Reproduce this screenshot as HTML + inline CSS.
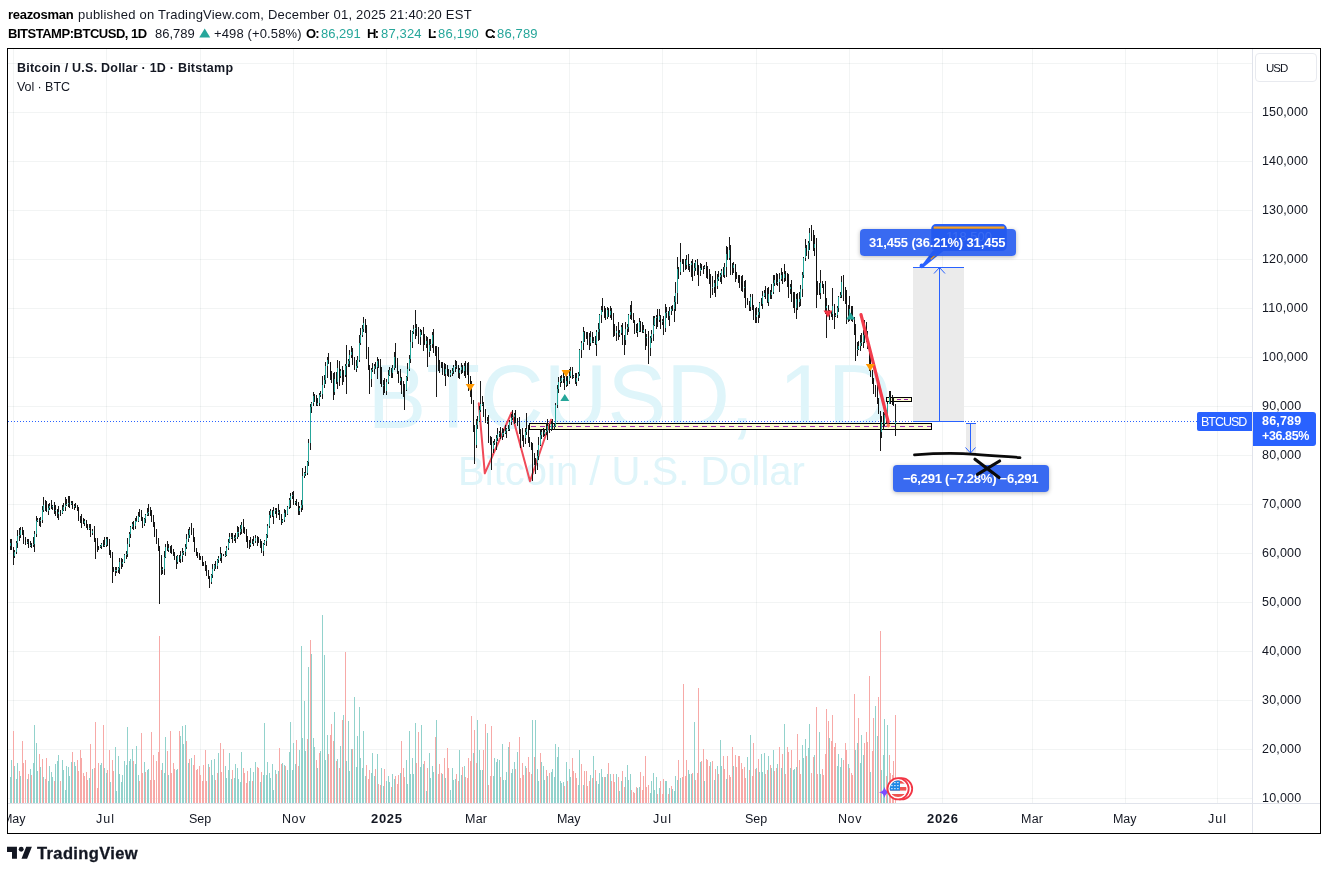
<!DOCTYPE html>
<html><head><meta charset="utf-8"><title>BTCUSD chart</title>
<style>
html,body{margin:0;padding:0;background:#fff;}
body{width:1328px;height:874px;position:relative;overflow:hidden;font-family:"Liberation Sans",sans-serif;}
.t{position:absolute;white-space:pre;font-family:"Liberation Sans",sans-serif;will-change:transform;}
.ov{position:absolute;left:0;top:0;z-index:2;}
.frame{position:absolute;left:7px;top:48px;width:1312px;height:784px;border:1px solid #000;z-index:1;box-sizing:content-box;}
.lbl{position:absolute;background:rgba(36,90,240,0.9);border-radius:4px;box-shadow:0 1px 4px rgba(0,0,0,.28);z-index:4;}
.box{position:absolute;z-index:4;}
.z5{z-index:5;}
</style></head><body>

<div class="frame"></div>
<svg class="ov" width="1328" height="874" viewBox="0 0 1328 874">
<path d="M13.5 49V803M106.5 49V803M200.5 49V803M293.5 49V803M386.5 49V803M476.5 49V803M569.5 49V803M662.5 49V803M756.5 49V803M849.5 49V803M942.5 49V803M1032.5 49V803M1125.5 49V803M1217.5 49V803" stroke="rgba(40,60,60,0.06)" stroke-width="1" fill="none" shape-rendering="crispEdges"/>
<path d="M8 63.5H1252M8 112.5H1252M8 161.5H1252M8 210.5H1252M8 259.5H1252M8 308.5H1252M8 357.5H1252M8 406.5H1252M8 455.5H1252M8 504.5H1252M8 553.5H1252M8 602.5H1252M8 651.5H1252M8 700.5H1252M8 749.5H1252M8 798.5H1252" stroke="rgba(40,60,60,0.06)" stroke-width="1" fill="none" shape-rendering="crispEdges"/>
<path d="M8 803.5H1320M1252.5 49V833" stroke="#e0e3eb" stroke-width="1" fill="none" shape-rendering="crispEdges"/>
<text x="367.5" y="428" textLength="524" lengthAdjust="spacingAndGlyphs" font-family="Liberation Sans, sans-serif" font-size="91" fill="#dff5fa">BTCUSD, 1D</text>
<text x="458.1" y="484.6" textLength="346.8" lengthAdjust="spacingAndGlyphs" font-family="Liberation Sans, sans-serif" font-size="41.2" fill="#dff5fa">Bitcoin / U.S. Dollar</text>
<path d="M10 777v26M11 760v43M14 766v37M16 779v24M17 763v40M20 776v27M27 779v24M30 769v34M33 763v40M34 725v78M36 743v60M37 771v32M40 767v36M43 777v26M48 781v22M49 766v37M51 772v31M52 777v26M55 764v39M57 761v42M58 755v48M62 760v43M63 770v33M65 790v13M66 766v37M68 767v36M69 776v27M71 762v41M74 762v41M75 766v37M89 778v25M92 769v34M100 765v38M101 763v40M104 768v35M106 773v30M110 782v21M115 747v56M116 791v12M118 756v47M119 774v29M121 782v21M122 775v28M124 761v42M126 765v38M127 727v76M129 761v42M130 759v44M132 749v54M135 764v39M136 746v57M138 775v28M144 762v41M147 770v33M148 769v34M162 763v40M164 773v30M165 737v66M168 775v28M176 770v33M177 769v34M180 736v67M182 726v77M183 744v59M185 725v78M188 763v40M191 758v45M208 764v39M211 760v43M212 775v28M214 759v44M218 753v50M225 766v37M226 778v25M228 770v33M229 753v50M231 779v24M234 778v25M235 764v39M237 768v35M238 779v24M240 782v21M241 752v51M249 781v22M250 768v35M253 772v31M255 762v41M260 782v21M263 775v28M264 723v80M266 775v28M267 762v41M269 773v30M270 778v25M272 764v39M273 790v13M275 770v33M278 771v32M282 763v40M284 765v38M287 770v33M289 752v51M290 722v81M292 770v33M293 743v60M295 764v39M299 750v53M301 646v157M302 738v65M304 701v102M305 751v52M308 667v136M311 654v149M313 738v65M314 747v56M317 768v35M320 751v52M322 615v188M324 655v148M325 760v43M327 735v68M334 712v91M337 759v44M340 746v57M343 715v88M346 761v42M348 721v82M349 771v32M351 749v54M354 697v106M356 767v36M357 736v67M359 707v96M360 758v45M362 768v35M363 731v72M365 776v27M371 773v30M372 753v50M374 776v27M377 754v49M381 768v35M383 786v17M386 781v22M388 776v27M389 782v21M392 774v29M394 779v24M400 773v30M406 760v43M407 784v19M409 731v72M410 774v29M412 758v45M413 774v29M415 723v80M420 767v36M421 725v78M423 764v39M426 791v12M429 753v50M430 778v25M432 766v37M433 772v31M436 720v83M442 774v29M445 778v25M450 790v13M452 768v35M453 780v23M455 779v24M459 750v53M461 775v28M464 766v37M473 753v50M477 720v83M479 750v53M480 770v33M482 770v33M487 733v70M493 776v27M494 758v45M496 762v41M497 759v44M499 760v43M502 744v59M503 780v23M505 780v23M506 772v31M508 747v56M511 773v30M512 769v34M514 762v41M517 752v51M525 766v37M532 720v83M535 720v83M537 769v34M538 781v22M541 762v41M543 766v37M544 780v23M547 776v27M551 772v31M552 769v34M554 777v26M555 744v59M557 757v46M558 747v56M560 781v22M561 783v20M563 782v21M566 762v41M569 769v34M570 777v26M578 785v18M579 750v53M583 785v18M590 775v28M593 756v47M596 781v22M598 784v19M599 773v30M601 769v34M602 777v26M605 777v26M607 774v29M610 774v29M616 774v29M619 791v12M621 781v22M625 777v26M627 765v38M628 780v23M630 774v29M637 788v15M639 787v16M650 793v10M651 781v22M653 773v30M654 790v13M656 777v26M659 788v15M665 781v22M666 781v22M669 788v15M672 789v14M674 791v12M675 776v27M677 780v23M680 778v25M688 770v33M689 774v29M691 774v29M694 722v81M700 762v41M704 781v22M710 762v41M714 780v23M717 766v37M720 740v63M721 766v37M726 779v24M733 766v37M747 757v46M750 735v68M756 768v35M759 772v31M761 754v49M762 772v31M764 753v50M768 756v47M771 768v35M773 750v53M777 764v39M781 768v35M784 724v79M790 768v35M793 770v33M794 769v34M796 767v36M802 745v58M803 758v45M805 739v64M808 748v55M809 724v79M814 755v48M819 732v71M820 774v29M829 738v65M837 766v37M838 754v49M840 767v36M841 758v45M848 764v39M855 750v53M857 743v60M860 763v40M861 735v68M863 755v48M870 772v31M875 706v97M877 736v67M881 770v33M883 755v48M884 719v84M887 725v78" stroke="#92d2cc" stroke-width="1" fill="none" transform="translate(0.5,0)" shape-rendering="crispEdges"/>
<path d="M13 731v72M19 771v32M22 741v62M23 763v40M25 760v43M28 774v29M31 775v28M39 754v49M42 759v44M45 779v24M46 758v45M54 781v22M60 781v22M72 752v51M77 760v43M78 771v32M80 750v53M81 758v45M83 773v30M84 776v27M86 772v31M87 780v23M90 744v59M94 768v35M95 722v81M97 788v15M98 763v40M103 725v78M107 770v33M109 750v53M112 760v43M113 771v32M133 761v42M139 781v22M141 733v70M142 773v30M145 772v31M150 780v23M151 732v71M153 755v48M154 780v23M156 761v42M158 752v51M159 636v167M161 770v33M167 751v52M170 731v72M171 773v30M173 763v40M174 769v34M179 731v72M186 741v62M189 759v44M193 765v38M194 755v48M196 770v33M197 769v34M199 766v37M200 775v28M202 781v22M203 765v38M205 750v53M206 781v22M209 767v36M215 780v23M217 773v30M220 743v60M221 772v31M223 749v54M232 770v33M243 768v35M244 773v30M246 783v20M247 771v32M252 781v22M257 767v36M258 768v35M261 772v31M276 774v29M279 748v55M281 764v39M285 766v37M296 740v63M298 766v37M307 739v64M310 640v163M316 760v43M319 753v50M328 754v49M330 735v68M331 724v79M333 741v62M336 761v42M339 768v35M342 720v83M345 652v151M352 749v54M366 765v38M368 779v24M369 770v33M375 769v34M378 784v19M380 785v18M384 769v34M391 787v16M395 776v27M397 784v19M398 775v28M401 741v62M403 768v35M404 777v26M416 763v40M418 732v71M424 761v42M427 768v35M435 737v66M438 774v29M439 764v39M441 773v30M444 758v45M447 748v55M448 768v35M456 774v29M458 781v22M462 767v36M465 777v26M467 778v25M468 758v45M470 761v42M471 716v87M474 730v73M476 763v40M483 750v53M485 724v79M488 785v18M490 776v27M491 726v77M500 777v26M509 742v61M515 769v34M519 737v66M520 778v25M522 763v40M523 775v28M526 768v35M528 757v46M529 772v31M531 774v29M534 757v46M540 753v50M546 770v33M549 773v30M564 786v17M567 781v22M572 758v45M573 771v32M575 773v30M576 778v25M581 764v39M584 771v32M586 771v32M587 786v17M589 781v22M592 778v25M595 770v33M604 777v26M608 763v40M611 781v22M613 774v29M614 782v21M618 777v26M622 771v32M624 787v16M631 790v13M633 792v11M634 793v10M636 787v16M640 772v31M642 790v13M643 776v27M645 756v47M646 787v16M648 785v18M657 794v9M660 781v22M662 794v9M663 779v24M668 794v9M671 786v17M678 760v43M682 777v26M683 684v119M685 776v27M686 760v43M692 773v30M695 780v23M697 773v30M698 688v115M701 761v42M703 749v54M706 759v44M707 760v43M709 766v37M712 761v42M715 769v34M718 774v29M723 756v47M724 769v34M727 756v47M729 775v28M730 777v26M732 747v56M735 755v48M736 767v36M738 756v47M739 756v47M741 763v40M742 769v34M744 767v36M745 778v25M749 770v33M752 776v27M753 743v60M755 769v34M758 759v44M765 774v29M767 770v33M770 765v38M774 771v32M776 768v35M779 747v56M782 754v49M785 774v29M787 747v56M788 752v51M791 750v53M797 734v69M799 760v43M800 774v29M806 756v47M811 773v30M813 757v46M816 707v96M817 774v29M822 769v34M823 775v28M825 754v49M826 709v94M828 721v82M831 741v62M832 715v88M834 747v56M835 743v60M843 760v43M845 743v60M846 750v53M849 768v35M851 773v30M852 775v28M854 694v109M858 718v85M864 743v60M866 732v71M867 742v61M869 676v127M872 751v52M873 718v85M878 697v106M880 631v172M886 776v27M889 755v48M890 773v30M892 775v28M893 761v42M895 715v88" stroke="#f7a9a7" stroke-width="1" fill="none" transform="translate(0.5,0)" shape-rendering="crispEdges"/>
<rect x="913" y="267" width="51" height="154" fill="#ebebeb"/>
<rect x="966" y="423" width="10" height="30" fill="#ebebeb"/>
<rect x="529.5" y="423.5" width="402" height="6" fill="#fbfad2" stroke="#000" stroke-width="1"/>
<path d="M531 426.5H931" stroke="#9c27b0" stroke-width="1" stroke-dasharray="5 4" fill="none"/>
<rect x="886.5" y="397.5" width="25" height="4" fill="#fbfad2" stroke="#000" stroke-width="1"/>
<path d="M897 399.5H910" stroke="#9c27b0" stroke-width="1" stroke-dasharray="4 3" fill="none"/>
<path d="M8 421.5H1197" stroke="#2962ff" stroke-width="1" stroke-dasharray="1 2" fill="none" shape-rendering="crispEdges"/>
<path d="M478.8 403.3L484.8 473.3L511.5 412.6L530 481.3L551 419.7" stroke="#f04a58" stroke-width="2" fill="none" stroke-linejoin="round" stroke-linecap="round"/>
<path d="M10 539v11M11 539v11M13 547v18M14 550v8M16 541v13M17 530v18M19 528v13M20 527v11M22 527v8M23 530v14M25 537v8M27 539v5M28 539v9M30 541v6M31 543v5M33 537v10M34 531v21M36 516v21M37 518v4M39 518v8M40 517v10M42 506v17M43 497v15M45 500v11M46 501v11M48 504v11M49 503v7M51 500v9M52 505v5M54 502v12M55 505v11M57 509v9M58 506v14M60 510v6M62 505v9M63 503v8M65 497v14M66 499v7M68 496v11M69 496v12M71 501v4M72 501v8M74 504v6M75 503v5M77 505v6M78 507v14M80 516v7M81 514v14M83 518v6M84 519v7M86 520v8M87 524v6M89 524v6M90 524v13M92 529v6M94 526v16M95 538v21M97 538v14M98 546v4M100 545v3M101 543v6M103 540v7M104 537v10M106 537v10M107 537v9M109 539v16M110 550v8M112 552v31M113 567v5M115 567v9M116 567v6M118 567v6M119 558v16M121 558v11M122 559v8M124 554v9M126 551v8M127 538v19M129 532v15M130 526v12M132 522v7M133 521v9M135 518v11M136 516v6M138 512v10M139 509v8M141 510v11M142 517v11M144 518v8M145 514v9M147 508v8M148 504v12M150 507v9M151 510v12M153 515v12M154 522v15M156 529v15M158 538v13M159 546v58M161 555v20M162 567v7M164 551v24M165 544v14M167 541v10M168 544v8M170 546v7M171 545v9M173 549v7M174 552v8M176 556v13M177 555v9M179 555v7M180 551v12M182 548v14M183 551v4M185 544v12M186 534v15M188 529v13M189 527v11M191 523v12M193 528v14M194 537v15M196 548v8M197 552v6M199 553v7M200 556v4M202 556v10M203 562v4M205 561v10M206 565v11M208 570v9M209 576v12M211 574v10M212 564v14M214 564v7M215 561v8M217 559v10M218 556v7M220 547v14M221 553v10M223 554v2M225 551v6M226 546v10M228 539v11M229 533v10M231 533v6M232 533v10M234 535v6M235 533v10M237 526v13M238 527v10M240 525v10M241 522v12M243 519v14M244 527v7M246 529v13M247 536v12M249 540v9M250 537v10M252 539v5M253 536v10M255 535v8M257 536v10M258 537v6M260 539v9M261 541v12M263 543v13M264 540v5M266 534v12M267 524v14M269 511v17M270 509v9M272 510v7M273 507v17M275 508v6M276 508v10M278 504v11M279 510v10M281 514v11M282 519v4M284 509v13M285 510v7M287 506v9M289 498v11M290 493v15M292 492v7M293 491v14M295 501v4M296 499v7M298 502v13M299 506v9M301 500v12M302 468v42M304 472v6M305 466v10M307 461v14M308 439v27M310 404v46M311 402v11M313 392v14M314 394v8M316 395v11M317 398v8M319 393v13M320 391v6M322 376v23M324 375v13M325 362v22M327 357v21M328 353v11M330 362v18M331 371v12M333 373v27M334 372v23M336 372v12M337 360v29M339 361v25M340 369v9M342 366v19M343 370v12M345 364v13M346 345v49M348 359v8M349 350v17M351 346v12M352 348v17M354 357v13M356 360v12M357 356v12M359 335v27M360 328v17M362 325v12M363 317v15M365 319v14M366 325v34M368 347v23M369 365v29M371 368v19M372 363v9M374 364v10M375 362v7M377 357v22M378 359v9M380 359v25M381 367v20M383 380v15M384 378v15M386 379v16M388 370v14M389 367v9M391 368v10M392 365v13M394 352v18M395 343v25M397 358v16M398 371v12M400 369v16M401 377v17M403 381v16M404 384v26M406 376v15M407 363v18M409 355v16M410 330v33M412 331v17M413 325v9M415 310v29M416 324v12M418 327v17M420 329v16M421 330v5M423 327v24M424 334v11M426 336v12M427 337v30M429 339v18M430 339v12M432 332v16M433 329v24M435 346v10M436 346v51M438 347v24M439 360v13M441 362v6M442 362v13M444 363v13M445 364v22M447 365v11M448 369v8M450 370v7M452 368v8M453 365v9M455 360v12M456 361v8M458 365v13M459 368v11M461 363v11M462 365v8M464 363v13M465 361v17M467 363v12M468 362v29M470 376v21M471 381v23M473 400v32M474 425v39M476 419v29M477 416v13M479 406v16M480 381v31M482 396v10M483 402v15M485 409v14M487 417v7M488 415v28M490 436v9M491 437v33M493 441v12M494 439v6M496 435v15M497 428v13M499 431v6M500 427v12M502 428v12M503 429v8M505 425v9M506 428v10M508 425v6M509 420v11M511 414v11M512 410v10M514 413v11M515 410v13M517 418v8M519 417v17M520 429v19M522 428v13M523 435v12M525 428v16M526 413v22M528 425v18M529 437v10M531 442v8M532 443v38M534 453v12M535 458v16M537 450v20M538 437v23M540 429v17M541 430v9M543 428v9M544 429v7M546 423v12M547 419v21M549 424v9M551 421v10M552 419v11M554 423v7M555 403v24M557 385v23M558 377v16M560 376v11M561 375v8M563 372v11M564 376v14M566 374v13M567 376v10M569 369v15M570 367v11M572 367v12M573 375v3M575 373v11M576 373v13M578 372v9M579 349v27M581 341v17M583 327v23M584 331v11M586 332v7M587 332v13M589 333v17M590 331v15M592 332v11M593 337v6M595 336v9M596 330v26M598 323v18M599 314v26M601 306v17M602 298v14M604 306v12M605 308v12M607 307v12M608 308v9M610 306v12M611 308v12M613 313v24M614 324v12M616 326v15M618 322v18M619 330v7M621 325v10M622 323v22M624 335v20M625 322v23M627 324v11M628 314v18M630 305v14M631 301v19M633 313v10M634 320v14M636 324v9M637 323v14M639 318v14M640 321v11M642 322v11M643 325v8M645 329v21M646 334v12M648 331v33M650 336v20M651 330v13M653 316v25M654 316v10M656 315v14M657 309v18M659 309v13M660 315v14M662 319v6M663 316v19M665 304v28M666 307v11M668 311v9M669 307v19M671 306v9M672 305v6M674 296v26M675 282v29M677 257v47M678 267v12M680 243v32M682 259v5M683 259v13M685 259v11M686 255v14M688 254v16M689 264v8M691 261v16M692 259v22M694 263v13M695 260v11M697 259v16M698 265v21M700 263v13M701 264v6M703 266v8M704 265v4M706 262v16M707 266v13M709 269v15M710 274v24M712 276v19M714 280v13M715 271v26M717 274v15M718 271v10M720 273v9M721 269v15M723 267v10M724 263v15M726 246v31M727 247v13M729 237v23M730 245v30M732 263v12M733 262v11M735 264v18M736 272v7M738 275v8M739 275v13M741 276v15M742 275v17M744 281v17M745 280v28M747 298v7M749 301v10M750 294v17M752 294v16M753 305v15M755 308v15M756 307v16M758 308v15M759 302v16M761 298v8M762 291v18M764 290v7M765 286v13M767 288v15M768 287v19M770 290v9M771 284v15M773 275v19M774 275v11M776 273v12M777 274v12M779 273v19M781 268v13M782 272v12M784 264v18M785 271v10M787 273v14M788 274v24M790 284v10M791 280v22M793 292v16M794 292v21M796 294v25M797 293v17M799 292v15M800 285v21M802 272v25M803 257v21M805 239v22M806 245v11M808 241v18M809 228v22M811 225v16M813 230v21M814 235v21M816 238v70M817 281v14M819 283v12M820 270v29M822 281v7M823 284v10M825 281v33M826 298v40M828 305v11M829 310v10M831 311v6M832 288v32M834 304v25M835 313v4M837 306v12M838 296v16M840 292v6M841 276v22M843 275v26M845 287v17M846 290v34M848 305v17M849 296v25M851 306v15M852 306v16M854 317v18M855 324v37M857 342v14M858 341v9M860 335v16M861 333v13M863 330v18M864 320v23M866 322v20M867 331v18M869 344v27M870 355v22M872 370v14M873 378v16M875 385v12M877 381v23M878 398v16M880 411v40M881 416v22M883 412v18M884 413v13M886 410v14M887 402v21M889 391v13M890 391v13M892 395v10M893 397v9M895 404v32" stroke="#1a1a1a" stroke-width="1" fill="none" transform="translate(0.5,0)" shape-rendering="crispEdges"/>
<path d="M11 543v6M13 549v7M22 530v3M23 533v7M25 540v2M28 542v4M31 545v1M39 520v1M45 505v3M46 508v3M51 506v1M54 506v5M57 510v4M60 512v1M69 503v1M72 503v4M75 506v1M77 507v2M78 509v10M80 519v1M81 520v1M83 520v3M86 521v5M87 526v3M90 528v5M94 531v9M95 540v2M97 542v5M98 547v1M103 544v1M107 539v3M109 542v9M110 551v5M112 556v13M113 569v2M121 562v2M133 524v2M139 516v1M141 516v3M142 519v5M150 512v3M151 515v5M153 520v5M154 525v10M156 535v6M158 541v7M159 548v9M161 557v12M167 547v3M170 548v2M171 550v3M173 553v1M174 554v5M176 559v3M179 556v3M191 530v2M193 532v7M194 539v11M196 550v3M197 553v2M199 555v2M200 557v1M202 558v6M203 564v1M205 565v4M206 569v4M208 573v5M209 578v4M215 565v1M221 554v1M223 555v1M232 537v2M243 525v4M244 529v3M246 532v7M247 539v5M249 544v1M252 543v1M257 538v3M258 541v1M260 542v1M261 543v8M272 511v5M276 510v3M279 512v4M281 516v6M285 513v1M293 495v8M296 502v1M298 503v8M314 396v3M316 399v6M328 360v3M330 363v13M331 376v3M333 379v13M336 379v3M339 368v8M342 371v4M343 375v1M352 352v10M354 362v7M365 323v5M366 328v23M368 351v18M369 369v10M375 366v1M378 361v5M380 366v12M381 378v8M384 385v6M391 370v3M395 357v6M397 363v9M398 372v9M401 378v6M403 384v2M404 386v4M416 328v5M418 333v4M421 332v2M423 334v5M424 339v5M427 341v11M433 335v12M435 347v4M436 351v8M438 359v3M439 362v2M441 364v3M442 367v1M444 367v7M447 369v4M448 373v2M456 366v1M458 367v6M462 367v4M465 366v2M467 368v4M468 372v7M470 379v11M471 390v13M473 403v25M474 428v17M483 404v10M485 414v7M488 421v17M490 438v4M491 442v7M500 433v3M515 415v6M517 421v3M519 424v9M520 433v4M522 437v1M523 438v1M528 429v9M529 438v5M531 443v5M532 448v8M534 456v6M535 462v1M543 432v2M549 426v3M552 424v3M564 378v7M567 381v1M572 371v6M575 376v6M584 332v4M586 336v1M587 336v2M589 338v5M592 337v4M595 341v3M602 310v1M604 310v3M605 313v4M608 310v5M611 311v8M613 319v11M614 330v3M618 331v4M622 327v11M624 338v2M631 312v6M633 318v3M634 321v7M636 328v3M640 322v9M642 331v1M645 330v8M648 337v11M657 317v3M660 316v5M663 321v7M668 312v4M672 309v1M678 269v3M682 262v1M683 262v2M685 264v1M688 260v6M692 263v8M697 262v4M698 266v5M701 268v1M703 268v1M706 267v3M707 270v8M709 278v3M710 281v6M715 283v3M723 271v4M727 254v4M730 250v16M732 266v2M735 265v11M736 276v1M738 277v1M739 278v4M741 282v3M742 285v2M745 287v13M747 300v4M749 304v3M752 297v10M753 307v9M755 316v1M761 303v1M765 293v5M767 298v4M770 294v1M776 280v3M782 275v3M785 274v1M787 275v5M788 280v9M791 287v8M793 295v2M794 297v11M797 299v3M806 248v3M811 233v4M813 237v11M816 244v43M817 287v2M819 289v4M822 283v3M823 286v4M825 290v18M828 306v6M829 312v1M831 312v2M834 306v10M843 282v11M845 293v4M846 297v10M848 307v8M851 309v7M852 316v4M854 320v10M855 330v20M866 326v13M867 339v6M869 345v16M870 361v11M872 372v8M873 380v8M875 388v1M877 389v10M878 400v12M880 412v13M883 414v14M886 412v10M890 393v11M892 397v7M893 398v8" stroke="#111" stroke-width="1" fill="none" transform="translate(0.5,0)" shape-rendering="crispEdges"/>
<path d="M10 543v3M14 552v4M16 543v9M17 536v7M19 535v1M20 530v5M27 542v1M30 545v1M33 544v1M34 534v10M36 521v13M37 520v1M40 520v1M42 510v10M43 505v5M48 508v3M49 506v2M52 506v1M55 510v1M58 512v2M62 510v3M63 507v3M65 505v2M66 504v1M68 503v1M71 503v1M74 506v1M84 521v2M89 528v1M92 531v2M100 546v1M101 544v2M104 545v1M106 539v6M115 570v1M116 570v1M118 568v2M119 562v6M122 562v2M124 555v7M126 554v1M127 544v10M129 534v10M130 527v7M132 524v3M135 521v5M136 521v1M138 516v5M144 519v5M145 515v4M147 513v2M148 512v1M162 569v1M164 557v12M165 547v10M168 548v2M177 556v6M180 556v3M182 553v3M183 552v1M185 547v5M186 539v8M188 535v4M189 530v5M211 575v7M212 569v6M214 565v4M217 560v6M218 558v2M220 554v4M225 555v1M226 548v7M228 542v6M229 537v5M231 537v1M234 538v1M235 537v1M237 532v5M238 532v1M240 529v3M241 525v4M250 543v2M253 541v2M255 538v3M263 544v7M264 541v3M266 535v6M267 526v9M269 515v11M270 511v4M273 511v5M275 510v1M278 512v1M282 520v2M284 513v7M287 507v7M289 500v7M290 496v4M292 495v1M295 502v1M299 508v3M301 505v3M302 476v29M304 473v3M305 473v1M307 462v11M308 443v19M310 407v36M311 403v4M313 396v7M317 403v2M319 395v8M320 394v1M322 385v9M324 380v5M325 366v14M327 360v6M334 379v13M337 368v14M340 371v5M345 366v9M346 364v2M348 361v3M349 355v6M351 352v3M356 366v3M357 360v6M359 343v17M360 335v8M362 329v6M363 323v6M371 370v9M372 369v1M374 366v3M377 361v6M383 385v1M386 382v9M388 375v7M389 370v5M392 368v5M394 357v11M400 378v3M406 377v13M407 369v8M409 359v10M410 342v17M412 332v10M413 329v3M415 328v1M420 332v5M426 341v3M429 345v7M430 344v1M432 335v9M445 369v5M450 373v2M452 371v2M453 367v4M455 366v1M459 370v3M461 367v3M464 366v5M476 425v20M477 421v4M479 410v11M480 404v6M482 404v1M487 421v1M493 443v6M494 442v1M496 438v4M497 434v4M499 433v1M502 433v3M503 433v1M505 431v2M506 429v2M508 429v1M509 422v7M511 418v4M512 417v1M514 415v2M525 432v6M526 429v3M537 456v7M538 445v11M540 435v10M541 432v3M544 432v2M546 431v1M547 426v5M551 424v5M554 426v1M555 405v21M557 389v16M558 382v7M560 381v1M561 378v3M563 378v1M566 381v4M569 376v5M570 371v5M573 376v1M576 378v4M578 374v4M579 350v24M581 343v7M583 332v11M590 337v6M593 341v1M596 332v12M598 329v3M599 315v14M601 310v5M607 310v7M610 311v4M616 331v2M619 333v2M621 327v6M625 329v11M627 327v2M628 315v12M630 312v3M637 331v1M639 322v9M643 330v2M646 337v1M650 338v10M651 334v4M653 325v9M654 318v7M656 317v1M659 316v4M662 321v1M665 313v15M666 312v1M669 311v5M671 309v2M674 302v7M675 293v9M677 269v24M680 262v10M686 260v5M689 265v1M691 263v2M694 268v3M695 262v6M700 268v3M704 267v1M712 287v1M714 283v4M717 279v7M718 277v2M720 275v2M721 271v4M724 267v8M726 254v13M729 250v8M733 265v3M744 287v1M750 297v10M756 315v2M758 312v3M759 303v9M762 296v8M764 293v3M768 294v8M771 292v3M773 283v9M774 280v3M777 282v1M779 279v3M781 275v4M784 274v4M790 287v2M796 299v9M799 299v3M800 289v10M802 275v14M803 258v17M805 248v10M808 243v8M809 233v10M814 244v4M820 283v10M826 306v2M832 306v8M835 315v1M837 308v7M838 297v11M840 295v2M841 282v13M849 309v6M857 349v1M858 346v3M860 343v3M861 342v1M863 335v7M864 326v9M881 422v10M884 415v9M887 404v18M889 397v7M895 422v2" stroke="#26a69a" stroke-width="1" fill="none" transform="translate(0.5,0)" shape-rendering="crispEdges"/>
<path d="M861 314.6L888.2 422" stroke="#f23c4c" stroke-width="3.2" fill="none" stroke-linecap="round"/>
<circle cx="888.3" cy="425.6" r="1.8" fill="#ff7a59"/>
<path d="M465.7 383.9H474.7L470.2 390.9Z" fill="#ff9800"/>
<path d="M561.5 370.1H570.5L566 377.1Z" fill="#ff9800"/>
<path d="M560.3 401.0H569.3L564.8 394.0Z" fill="#26a69a"/>
<path d="M823.5 310.5H832.5L828 317.5Z" fill="#f23645"/>
<path d="M846.1 319.5H855.1L850.6 312.5Z" fill="#26a69a"/>
<path d="M865.8 364.0H874.8L870.3 371.0Z" fill="#ff9800"/>
<path d="M913 267.5H964M913 421.5H964M939.5 267V421M934 273.5L939.5 267.5L945 273.5" stroke="#2962ff" stroke-width="1" fill="none"/>
<path d="M966 423.5H976M970.5 423V453M965.5 447.5L970.5 453L975.5 447.5" stroke="#2962ff" stroke-width="1" fill="none"/>
<rect x="932" y="224.8" width="74" height="25.5" rx="4" fill="#2f62e8" stroke="#2962ff" stroke-width="1.6"/>
<path d="M933.6 227.6H1004.4" stroke="#ffa726" stroke-width="2.4"/>
<text x="969" y="240.5" text-anchor="middle" font-family="Liberation Sans, sans-serif" font-size="13" fill="#ffffff">118,500</text>
<path d="M920.8 266.6L933 250.5L944 250.5L923.2 267.6Z" fill="#2962ff"/>
<path d="M930.8 259.2L936 254.6" stroke="#ffa726" stroke-width="1.3"/>
<circle cx="921.8" cy="265.9" r="2.3" fill="#2962ff"/>
<path d="M914.5 454.8C940 453 960 453.2 975 454.3C995 455.6 1008 456.8 1020 457.6" stroke="#0a0a0a" stroke-width="2.8" fill="none" stroke-linecap="round"/>
</svg>
<svg class="ov" style="z-index:6" width="1328" height="874" viewBox="0 0 1328 874">
<path d="M975 459.2L999 477.6M999.6 461L977.5 474.4" stroke="#0a0a0a" stroke-width="3.2" fill="none" stroke-linecap="round"/>
<path d="M878.9 792.3C882.3 791.7 883.9 790.1 884.5 786.7C885.1 790.1 886.7 791.7 890.1 792.3C886.7 792.9 885.1 794.5 884.5 797.9C883.9 794.5 882.3 792.9 878.9 792.3Z" fill="#7c4dff"/>
<circle cx="901.6" cy="788.8" r="10.6" fill="#fff" stroke="#f23645" stroke-width="1.8"/>
<circle cx="898.1" cy="788.8" r="10.6" fill="#fff" stroke="#f23645" stroke-width="1.8"/>
<clipPath id="fc"><circle cx="898.1" cy="788.8" r="8.3"/></clipPath>
<g clip-path="url(#fc)"><rect x="889" y="780" width="19" height="18" fill="#fafcff"/><rect x="889" y="780" width="19" height="3.6" fill="#ef5350"/><rect x="889" y="787" width="19" height="3.6" fill="#ef5350"/><rect x="889" y="794" width="19" height="3.6" fill="#ef5350"/><rect x="889" y="780" width="11" height="10.6" fill="#1e88e5"/><rect x="891.3" y="782" width="1.2" height="1.2" fill="#fff"/><rect x="891.3" y="785" width="1.2" height="1.2" fill="#fff"/><rect x="891.3" y="788" width="1.2" height="1.2" fill="#fff"/><rect x="894.3" y="782" width="1.2" height="1.2" fill="#fff"/><rect x="894.3" y="785" width="1.2" height="1.2" fill="#fff"/><rect x="894.3" y="788" width="1.2" height="1.2" fill="#fff"/><rect x="897.3" y="782" width="1.2" height="1.2" fill="#fff"/><rect x="897.3" y="785" width="1.2" height="1.2" fill="#fff"/><rect x="897.3" y="788" width="1.2" height="1.2" fill="#fff"/></g>
</svg>
<div class="t" style="left:7.80px;top:5.50px;font-size:13px;line-height:18px;font-weight:bold;color:#000;letter-spacing:-0.290px;">reazosman</div>
<div class="t" style="left:78.40px;top:5.50px;font-size:13px;line-height:18px;color:#131722;letter-spacing:0.220px;">published on TradingView.com, December 01, 2025 21:40:20 EST</div>
<div class="t" style="left:7.80px;top:24.50px;font-size:13px;line-height:18px;font-weight:bold;color:#000;letter-spacing:-0.478px;">BITSTAMP:BTCUSD, 1D</div>
<div class="t" style="left:154.50px;top:24.50px;font-size:13px;line-height:18px;color:#131722;letter-spacing:-0.012px;">86,789</div>
<svg class="ov" width="1328" height="60"><path d="M199.2 37.6L204.7 28.6L210.2 37.6Z" fill="#26a69a"/></svg>
<div class="t" style="left:214.00px;top:24.50px;font-size:13px;line-height:18px;color:#131722;letter-spacing:0.133px;">+498 (+0.58%)</div>
<div class="t" style="left:305.80px;top:24.50px;font-size:13px;line-height:18px;font-weight:bold;color:#000;letter-spacing:-0.742px;">O:</div>
<div class="t" style="left:321.20px;top:24.50px;font-size:13px;line-height:18px;color:#26a69a;letter-spacing:0.008px;">86,291</div>
<div class="t" style="left:367.40px;top:24.50px;font-size:13px;line-height:18px;font-weight:bold;color:#000;letter-spacing:-1.517px;">H:</div>
<div class="t" style="left:381.30px;top:24.50px;font-size:13px;line-height:18px;color:#26a69a;letter-spacing:0.148px;">87,324</div>
<div class="t" style="left:427.70px;top:24.50px;font-size:13px;line-height:18px;font-weight:bold;color:#000;letter-spacing:-3.370px;">L:</div>
<div class="t" style="left:438.20px;top:24.50px;font-size:13px;line-height:18px;color:#26a69a;letter-spacing:0.208px;">86,190</div>
<div class="t" style="left:484.60px;top:24.50px;font-size:13px;line-height:18px;font-weight:bold;color:#000;letter-spacing:-2.717px;">C:</div>
<div class="t" style="left:497.30px;top:24.50px;font-size:13px;line-height:18px;color:#26a69a;letter-spacing:0.148px;">86,789</div>
<div class="t" style="left:17.00px;top:58.50px;font-size:12.5px;line-height:18px;font-weight:bold;color:#131722;letter-spacing:0.232px;z-index:3;">Bitcoin / U.S. Dollar · 1D · Bitstamp</div>
<div class="t" style="left:17.00px;top:77.50px;font-size:12.5px;line-height:18px;color:#131722;letter-spacing:-0.061px;z-index:3;">Vol · BTC</div>
<div class="box" style="left:1255px;top:53px;width:60px;height:27px;border:1px solid #e8eaef;border-radius:4px;background:#fff;"></div>
<div class="t" style="left:1266.20px;top:60.00px;font-size:11.5px;line-height:16px;color:#131722;letter-spacing:-0.940px;z-index:5;">USD</div>
<div style="position:absolute;left:1253px;top:49px;width:67px;height:754px;overflow:hidden;z-index:3;">
<div class="t" style="left:9.30px;top:54.40px;font-size:12.5px;line-height:18px;color:#131722;letter-spacing:0.120px;">150,000</div>
<div class="t" style="left:9.30px;top:103.40px;font-size:12.5px;line-height:18px;color:#131722;letter-spacing:0.120px;">140,000</div>
<div class="t" style="left:9.30px;top:152.40px;font-size:12.5px;line-height:18px;color:#131722;letter-spacing:0.120px;">130,000</div>
<div class="t" style="left:9.30px;top:201.40px;font-size:12.5px;line-height:18px;color:#131722;letter-spacing:0.120px;">120,000</div>
<div class="t" style="left:9.30px;top:250.40px;font-size:12.5px;line-height:18px;color:#131722;letter-spacing:0.274px;">110,000</div>
<div class="t" style="left:9.30px;top:299.40px;font-size:12.5px;line-height:18px;color:#131722;letter-spacing:0.120px;">100,000</div>
<div class="t" style="left:9.30px;top:348.40px;font-size:12.5px;line-height:18px;color:#131722;letter-spacing:0.174px;">90,000</div>
<div class="t" style="left:9.30px;top:397.40px;font-size:12.5px;line-height:18px;color:#131722;letter-spacing:0.174px;">80,000</div>
<div class="t" style="left:9.30px;top:446.40px;font-size:12.5px;line-height:18px;color:#131722;letter-spacing:0.174px;">70,000</div>
<div class="t" style="left:9.30px;top:495.40px;font-size:12.5px;line-height:18px;color:#131722;letter-spacing:0.174px;">60,000</div>
<div class="t" style="left:9.30px;top:544.40px;font-size:12.5px;line-height:18px;color:#131722;letter-spacing:0.174px;">50,000</div>
<div class="t" style="left:9.30px;top:593.40px;font-size:12.5px;line-height:18px;color:#131722;letter-spacing:0.174px;">40,000</div>
<div class="t" style="left:9.30px;top:642.40px;font-size:12.5px;line-height:18px;color:#131722;letter-spacing:0.174px;">30,000</div>
<div class="t" style="left:9.30px;top:691.40px;font-size:12.5px;line-height:18px;color:#131722;letter-spacing:0.174px;">20,000</div>
<div class="t" style="left:9.30px;top:740.40px;font-size:12.5px;line-height:18px;color:#131722;letter-spacing:0.174px;">10,000</div>
</div>
<div style="position:absolute;left:8px;top:804px;width:1244px;height:29px;overflow:hidden;z-index:3;">
<div class="t" style="left:-6.20px;top:6.20px;font-size:12.5px;line-height:18px;color:#131722;letter-spacing:-0.107px;">May</div>
<div class="t" style="left:88.45px;top:6.20px;font-size:12.5px;line-height:18px;color:#131722;letter-spacing:1.061px;">Jul</div>
<div class="t" style="left:181.10px;top:6.20px;font-size:12.5px;line-height:18px;color:#131722;letter-spacing:-0.020px;">Sep</div>
<div class="t" style="left:273.90px;top:6.20px;font-size:12.5px;line-height:18px;color:#131722;letter-spacing:0.586px;">Nov</div>
<div class="t" style="left:362.50px;top:6.20px;font-size:13px;line-height:18px;font-weight:bold;color:#131722;letter-spacing:0.694px;">2025</div>
<div class="t" style="left:457.20px;top:6.20px;font-size:12.5px;line-height:18px;color:#131722;letter-spacing:0.237px;">Mar</div>
<div class="t" style="left:549.30px;top:6.20px;font-size:12.5px;line-height:18px;color:#131722;letter-spacing:-0.107px;">May</div>
<div class="t" style="left:644.95px;top:6.20px;font-size:12.5px;line-height:18px;color:#131722;letter-spacing:1.061px;">Jul</div>
<div class="t" style="left:736.90px;top:6.20px;font-size:12.5px;line-height:18px;color:#131722;letter-spacing:-0.020px;">Sep</div>
<div class="t" style="left:829.90px;top:6.20px;font-size:12.5px;line-height:18px;color:#131722;letter-spacing:0.586px;">Nov</div>
<div class="t" style="left:919.00px;top:6.20px;font-size:13px;line-height:18px;font-weight:bold;color:#131722;letter-spacing:0.694px;">2026</div>
<div class="t" style="left:1013.00px;top:6.20px;font-size:12.5px;line-height:18px;color:#131722;letter-spacing:0.237px;">Mar</div>
<div class="t" style="left:1105.30px;top:6.20px;font-size:12.5px;line-height:18px;color:#131722;letter-spacing:-0.107px;">May</div>
<div class="t" style="left:1200.45px;top:6.20px;font-size:12.5px;line-height:18px;color:#131722;letter-spacing:1.061px;">Jul</div>
</div>
<div class="box" style="left:1197px;top:412px;width:55px;height:19px;background:#2962ff;border-radius:2px 0 0 2px;"></div>
<div class="t" style="left:1201.00px;top:413.00px;font-size:12.5px;line-height:18px;color:#fff;letter-spacing:-1.038px;z-index:5;">BTCUSD</div>
<div class="box" style="left:1253px;top:412px;width:63px;height:34px;background:#2962ff;border-radius:0 3px 3px 0;"></div>
<div class="t" style="left:1262.00px;top:412.40px;font-size:12.5px;line-height:18px;font-weight:bold;color:#fff;letter-spacing:0.194px;z-index:5;">86,789</div>
<div class="t" style="left:1262.00px;top:427.40px;font-size:12.5px;line-height:18px;font-weight:bold;color:#fff;letter-spacing:-0.399px;z-index:5;">+36.85%</div>
<div class="lbl" style="left:860px;top:229px;width:156px;height:27px;"></div>
<div class="t" style="left:869.40px;top:233.50px;font-size:13px;line-height:18px;font-weight:bold;color:#fff;letter-spacing:-0.138px;z-index:5;">31,455 (36.21%) 31,455</div>
<div class="lbl" style="left:893px;top:465px;width:156px;height:27px;"></div>
<div class="t" style="left:903.00px;top:469.50px;font-size:13px;line-height:18px;font-weight:bold;color:#fff;letter-spacing:-0.242px;z-index:5;">−6,291 (−7.28%) −6,291</div>
<svg class="ov" style="z-index:3" width="1328" height="874" viewBox="0 0 1328 874"><path d="M7 846.8H16.95V858.75H12V852H7Z M26.2 846.8H31.9L27.1 858.75H21.5Z" fill="#131722"/><circle cx="21.2" cy="849.3" r="2.45" fill="#131722"/></svg>
<div class="t" style="left:37.00px;top:841.50px;font-size:16.5px;line-height:23px;font-weight:bold;color:#131722;letter-spacing:0.371px;-webkit-text-stroke:0.3px #131722;">TradingView</div>
</body></html>
